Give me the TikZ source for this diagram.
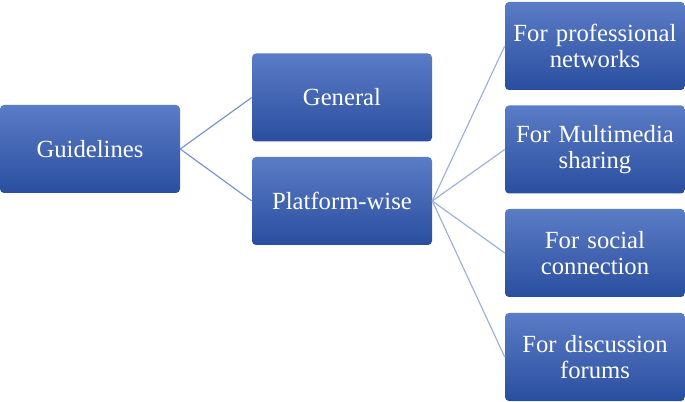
\documentclass[tikz,border=0pt]{standalone}
\usepackage{fontspec}
\setmainfont{Liberation Serif}
\definecolor{boxtop}{HTML}{5B7CC6}
\definecolor{boxbot}{HTML}{2A4E9F}
\definecolor{lineA}{HTML}{7B93D0}
\definecolor{lineB}{HTML}{9FB2DE}
\begin{document}
\begin{tikzpicture}[x=0.75pt,y=-0.75pt,
  box/.style={rounded corners=3pt, top color=boxtop, bottom color=boxbot, draw=none,
    minimum width=135pt, minimum height=66pt, text width=130pt, align=center,
    text=white, font=\fontsize{18.5}{19.5}\selectfont, inner sep=0pt},
  conn/.style={draw=lineA, line width=0.9pt},
  conn2/.style={draw=lineB, line width=0.9pt}]
\useasboundingbox (0,0) rectangle (685,402);
\node[box] (g) at (90,149) {Guidelines};
\node[box] (gen) at (342,97.5) {General};
\node[box] (pw) at (342,201) {Platform-wise};
\node[box] (p1) at (595,46) {For professional\\networks};
\node[box] (p2) at (595,149.5) {For Multimedia\\sharing};
\node[box] (p3) at (595,253) {For social\\connection};
\node[box] (p4) at (595,357) {For discussion\\forums};
\draw[conn] (g.east) -- (gen.west);
\draw[conn] (g.east) -- (pw.west);
\foreach \n in {p1,p2,p3,p4}{\draw[conn2] (pw.east) -- (\n.west);}
\end{tikzpicture}
\end{document}
